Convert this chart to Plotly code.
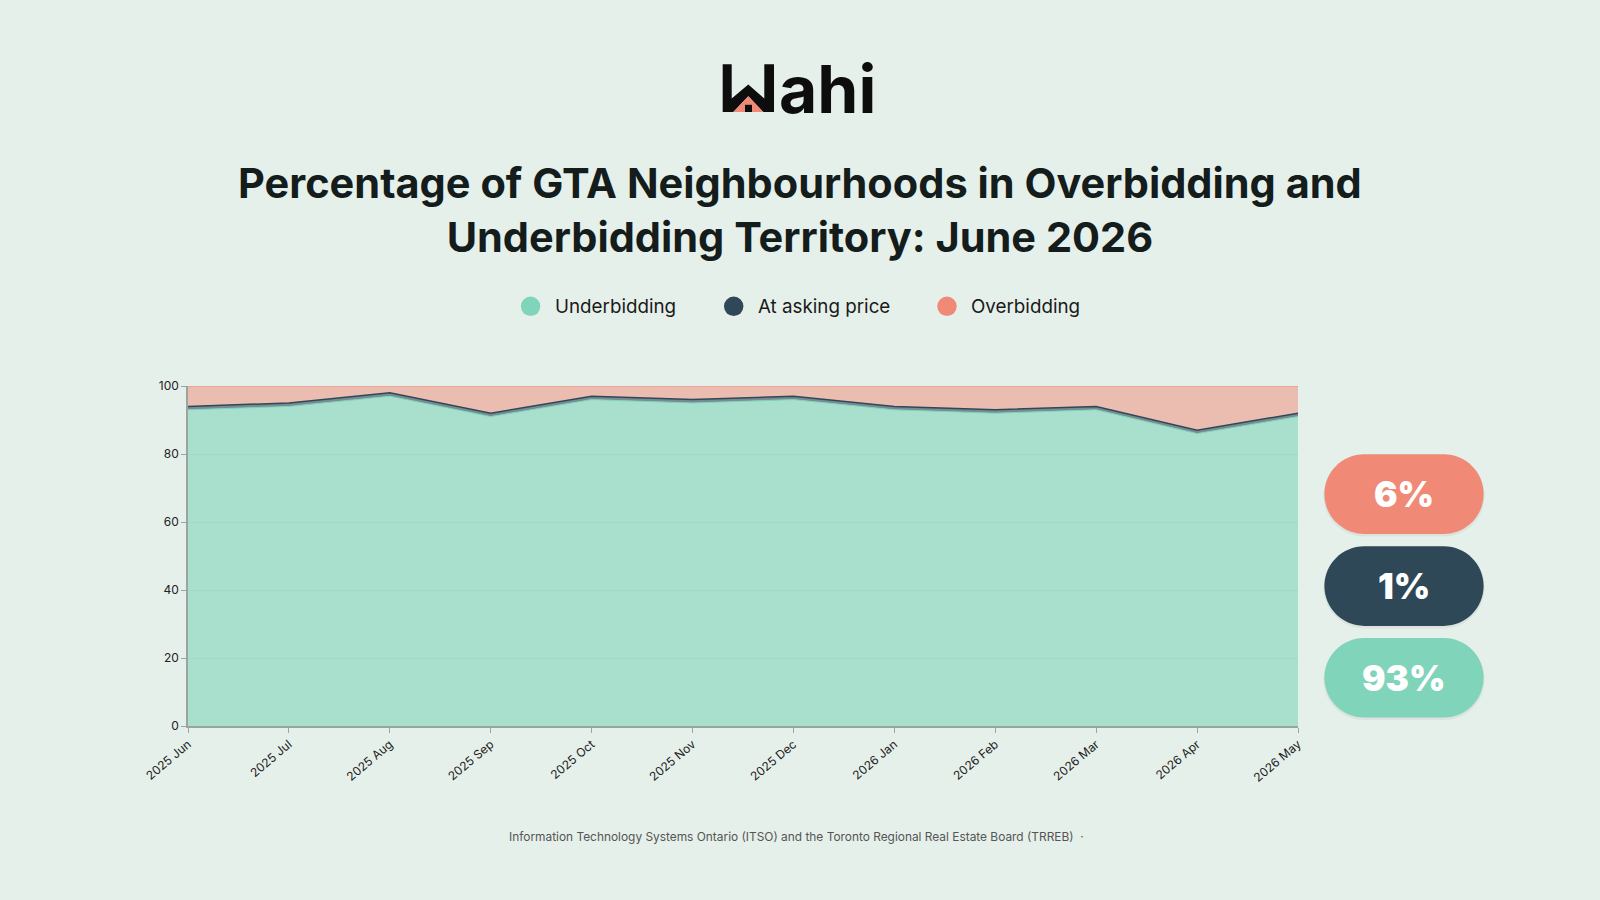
import plotly.graph_objects as go

months = ["2025 Jun", "2025 Jul", "2025 Aug", "2025 Sep", "2025 Oct", "2025 Nov",
          "2025 Dec", "2026 Jan", "2026 Feb", "2026 Mar", "2026 Apr", "2026 May"]
underbidding = [93, 94, 97, 91, 96, 95, 96, 93, 92, 93, 86, 91]
at_asking = [1, 1, 1, 1, 1, 1, 1, 1, 1, 1, 1, 1]
overbidding = [6, 5, 2, 8, 3, 4, 3, 6, 7, 6, 13, 8]
series_names = ["Underbidding", "At asking price", "Overbidding"]
badge_values = ["6%", "1%", "93%"]
y_ticks = [0, 20, 40, 60, 80, 100]

BG = "#e6f0ea"
TEAL = "#7fd4b9"
DARK = "#2f4858"
SALMON = "#f08a76"

# plot area in page pixels
L, R, T, B = 188, 1298, 385.7, 725.7
W, H = R - L, B - T


def px(x):
    return (x - L) / W


def py(y):
    return (B - y) / H


fig = go.Figure()
series = [(underbidding, TEAL, "rgba(127,212,185,0.6)"),
          (at_asking, DARK, "rgba(47,72,88,0.6)"),
          (overbidding, SALMON, "rgba(240,138,118,0.5)")]
for name, (vals, col, fcol) in zip(series_names, series):
    fig.add_trace(go.Scatter(
        x=months, y=vals, name=name, stackgroup="one", mode="lines",
        line=dict(color=col, width=1.5 if col == DARK else 1),
        fillcolor=fcol, showlegend=False, hoverinfo="x+y+name"))

shapes = []
annotations = []

# ---- logo ----
def pt(x, y):
    return f"{px(x):.5f},{py(y):.5f}"

wpoly = [(722.7, 64), (722.7, 111.7), (733.3, 111.7), (748.3, 96), (763.3, 111.7),
         (774, 111.7), (774, 64), (764.3, 64), (764.3, 98.3), (748.3, 84.3),
         (731.7, 98.3), (731.7, 64)]
path = "M " + " L ".join(pt(x, y) for x, y in wpoly) + " Z"
shapes.append(dict(type="path", xref="paper", yref="paper", path=path,
                   fillcolor="#0d0d0d", line=dict(width=0)))
tri = [(733.3, 111.7), (748.3, 96), (763.3, 111.7)]
shapes.append(dict(type="path", xref="paper", yref="paper",
                   path="M " + " L ".join(pt(x, y) for x, y in tri) + " Z",
                   fillcolor=SALMON, line=dict(width=0)))
shapes.append(dict(type="rect", xref="paper", yref="paper",
                   x0=px(745), x1=px(752), y0=py(104.5), y1=py(111.7),
                   fillcolor="#0d0d0d", line=dict(width=0)))
annotations.append(dict(text="ahi", x=px(777), y=py(89), xref="paper", yref="paper",
                        xanchor="left", yanchor="middle", showarrow=False,
                        font=dict(family="Inter", size=66, color="#0d0d0d", weight=700)))

# ---- title ----
annotations.append(dict(
    text="Percentage of GTA Neighbourhoods in Overbidding and<br>Underbidding Territory: June 2026",
    x=px(800), y=py(209.5), xref="paper", yref="paper", xanchor="center", yanchor="middle",
    showarrow=False, align="center",
    font=dict(family="Inter", size=41.5, color="#141c1c", weight=700)))

# ---- legend ----
leg_cx = [530.6, 733.7, 947]
leg_cols = [TEAL, DARK, SALMON]
for name, cx, col in zip(series_names, leg_cx, leg_cols):
    shapes.append(dict(type="circle", xref="paper", yref="paper",
                       xsizemode="pixel", ysizemode="pixel",
                       xanchor=px(cx), yanchor=py(306),
                       x0=-9.7, x1=9.7, y0=-9.7, y1=9.7,
                       fillcolor=col, line=dict(width=0)))
    annotations.append(dict(text=name, x=px(cx + 22), y=py(306), xref="paper", yref="paper",
                            xanchor="left", yanchor="middle", showarrow=False,
                            font=dict(family="Inter", size=18.8, color="#1a1a1a")))

# ---- badges ----
def pill(w, h):
    r = h
    k = 0.5523 * r
    a = w - r
    return (f"M {-a},{-h} L {a},{-h} C {a + k},{-h} {w},{-k} {w},0 "
            f"C {w},{k} {a + k},{h} {a},{h} L {-a},{h} C {-a - k},{h} {-w},{k} {-w},0 "
            f"C {-w},{-k} {-a - k},{-h} {-a},{-h} Z")

badge_cy = [493.8, 585.8, 677.5]
badge_cols = [SALMON, DARK, TEAL]
for val, cy, col in zip(badge_values, badge_cy, badge_cols):
    # soft shadow
    shapes.append(dict(type="path", xref="paper", yref="paper",
                       xsizemode="pixel", ysizemode="pixel",
                       xanchor=px(1404), yanchor=py(cy + 1.5),
                       path=pill(80.6, 40.8), fillcolor="rgba(0,0,0,0.05)", line=dict(width=0)))
    shapes.append(dict(type="path", xref="paper", yref="paper",
                       xsizemode="pixel", ysizemode="pixel",
                       xanchor=px(1404), yanchor=py(cy),
                       path=pill(79.6, 39.8), fillcolor=col, line=dict(width=0)))
    annotations.append(dict(text=val, x=px(1404), y=py(cy), xref="paper", yref="paper",
                            xanchor="center", yanchor="middle", showarrow=False,
                            font=dict(family="Inter", size=35, color="white", weight=900)))

# ---- footer ----
annotations.append(dict(
    text="Information Technology Systems Ontario (ITSO) and the Toronto Regional Real Estate Board (TRREB)  ·",
    x=px(797), y=py(835.7), xref="paper", yref="paper", xanchor="center", yanchor="middle",
    showarrow=False, font=dict(family="Inter", size=11.9, color="#555555")))

fig.update_layout(
    width=1600, height=900,
    margin=dict(l=L, r=1600 - R, t=T, b=900 - B, pad=0),
    paper_bgcolor=BG, plot_bgcolor=BG,
    shapes=shapes, annotations=annotations,
    showlegend=False,
    font=dict(family="Inter", size=12, color="#222222"),
)
fig.update_xaxes(type="category", range=[0, len(months) - 1], tickangle=-40,
                 showgrid=False, showline=True, linecolor="#9aa5a0", linewidth=1.5,
                 ticks="outside", ticklen=5, tickcolor="#9aa5a0",
                 tickfont=dict(size=12, color="#222222"), zeroline=False)
fig.update_yaxes(range=[0, 100], tickvals=y_ticks, showgrid=True, gridcolor="#d3ded8",
                 showline=True, linecolor="#9aa5a0", linewidth=1.5,
                 ticks="outside", ticklen=5, tickcolor="#9aa5a0",
                 tickfont=dict(size=12, color="#222222"), zeroline=False)

fig.write_html("out.html")
